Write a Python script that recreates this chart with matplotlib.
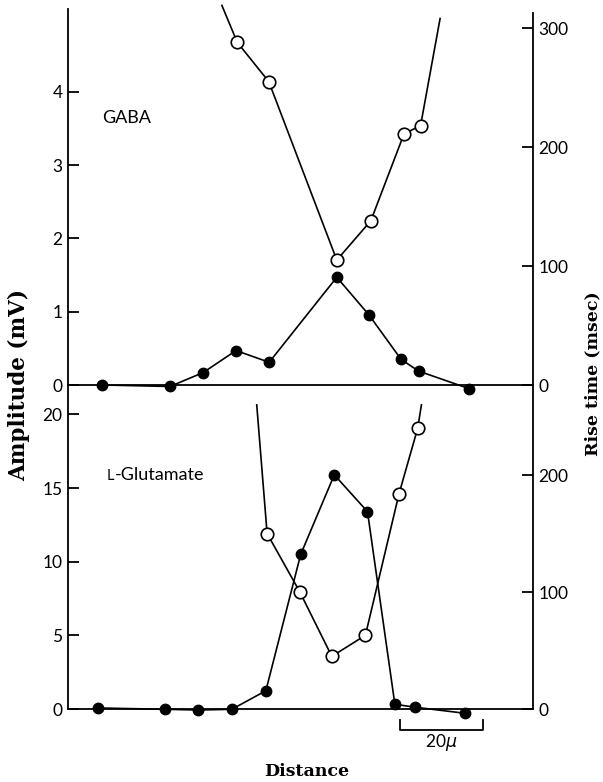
import matplotlib.pyplot as plt

# GABA: amplitude (filled) and rise time (open) against electrode distance (micron)
gabaDist = [7.7, 24.1, 32.1, 40.0, 48.0, 64.3, 72.0, 79.8, 84.0, 96.2]
gabaAmp = [0.0, -0.02, 0.17, 0.47, 0.31, 1.47, 0.96, 0.35, 0.19, -0.05]
gabaRiseDist = [36.6, 40.3, 47.9, 64.3, 72.5, 80.5, 84.5, 89.2]
gabaRise = [319, 288, 255, 105, 138, 211, 218, 308]

# L-Glutamate
gluDist = [6.7, 22.8, 30.9, 39.0, 47.2, 55.6, 63.7, 71.7, 78.3, 83.2, 95.2]
gluAmp = [0.07, -0.02, -0.07, -0.02, 1.24, 10.5, 15.9, 13.4, 0.32, 0.12, -0.29]
gluRiseDist = [45.0, 47.5, 55.4, 63.1, 71.2, 79.3, 83.8, 84.7]
gluRise = [260, 150, 100, 45, 63, 184, 240, 260]

# first and last rise time points are only where the curve leaves the frame
riseMarks = slice(1, -1)

gabaTicks = [0, 1, 2, 3, 4]
gluTicks = [0, 5, 10, 15, 20]
gabaRiseTicks = [0, 100, 200, 300]
gluRiseTicks = [0, 100, 200]

scaleStart = 79.5
scaleLen = 20

tickFont = 'Lato'
labelFont = 'DejaVu Serif'
lw = 1.2

fig = plt.figure(figsize=(6.03, 7.82), dpi=100)
axTop = fig.add_axes([68 / 603, 1 - 385 / 782, 465 / 603, 376 / 782])
axBot = fig.add_axes([68 / 603, 1 - 709 / 782, 465 / 603, 324 / 782])
axTopR = axTop.twinx()
axBotR = axBot.twinx()

xlim = (-0.5, 111.6)


def style(ax, side):
    ax.patch.set_visible(False)
    ax.set_xlim(*xlim)
    ax.set_xticks([])
    ax.spines['top'].set_visible(False)
    for s in ax.spines.values():
        s.set_linewidth(1.3)
    if side == 'left':
        ax.spines['right'].set_visible(False)
    else:
        ax.spines['left'].set_visible(False)
        ax.spines['bottom'].set_visible(False)
    ax.tick_params(axis='y', direction='in', length=8, width=1.3,
                   labelsize=12.5, pad=4)
    for t in ax.get_yticklabels():
        t.set_fontfamily(tickFont)


# top panel: GABA
axTop.plot(gabaDist, gabaAmp, color='black', lw=lw, marker='o', ms=7.5,
           mfc='black', mec='black', clip_on=False, zorder=3)
axTop.set_ylim(0, 5.13)
axTop.set_yticks(gabaTicks)
style(axTop, 'left')

axTopR.plot(gabaRiseDist, gabaRise, color='black', lw=lw, marker='o', ms=9,
            mfc='white', mec='black', mew=1.2, markevery=riseMarks,
            clip_on=False, zorder=3)
axTopR.set_ylim(0, 316)
axTopR.set_yticks(gabaRiseTicks)
style(axTopR, 'right')
axTopR.spines['right'].set_bounds(0, 313)

axTop.text(7.7, 3.64, 'GABA', fontsize=13, family=tickFont, va='center')

# bottom panel: L-Glutamate
axBot.plot(gluDist, gluAmp, color='black', lw=lw, marker='o', ms=7.5,
           mfc='black', mec='black', clip_on=False, zorder=3)
axBot.set_ylim(0, 22.0)
axBot.set_yticks(gluTicks)
style(axBot, 'left')

axBotR.plot(gluRiseDist, gluRise, color='black', lw=lw, marker='o', ms=9,
            mfc='white', mec='black', mew=1.2, markevery=riseMarks,
            clip_on=False, zorder=3)
axBotR.set_ylim(0, 277)
axBotR.set_yticks(gluRiseTicks)
style(axBotR, 'right')

# small capital L, then the rest of the name
lbl = axBot.text(8.9, 15.8, 'L', fontsize=10.5, family=tickFont, va='center')
axBot.annotate('-Glutamate', xy=(1, 0), xycoords=lbl, fontsize=13,
               family=tickFont, va='bottom', ha='left')

# 20 micron scale bar under the bottom panel
sx = [scaleStart, scaleStart, scaleStart + scaleLen, scaleStart + scaleLen]
sy = [-0.75, -1.45, -1.45, -0.75]
axBot.plot(sx, sy, color='black', lw=1.3, clip_on=False)
axBot.text(scaleStart + scaleLen / 2, -2.3, r'20$\mu$', fontsize=12.5,
           family=tickFont, ha='center', va='center')

# axis titles
fig.text(306.7 / 603, 1 - 772 / 782, 'Distance', fontsize=12.5,
         family=labelFont, weight='bold', ha='center', va='center')
fig.text(19 / 603, 1 - 385 / 782, 'Amplitude (mV)', fontsize=15.5,
         family=labelFont, weight='bold', rotation=90, ha='center', va='center')
fig.text(593 / 603, 1 - 374 / 782, 'Rise time (msec)', fontsize=12.5,
         family=labelFont, weight='bold', rotation=90, ha='center', va='center')

plt.savefig('out.png', dpi=100)
